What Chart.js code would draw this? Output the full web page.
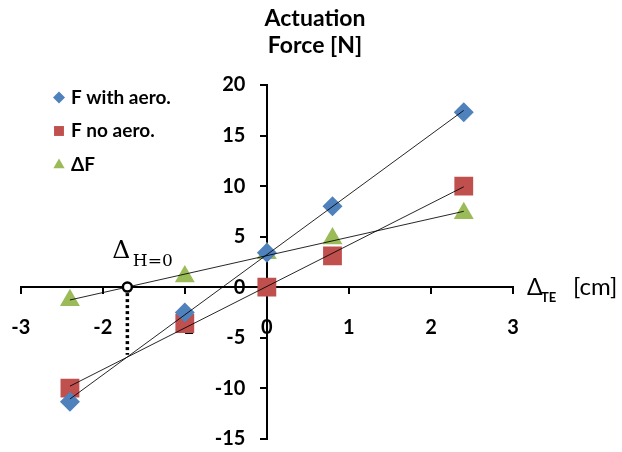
<!DOCTYPE html>
<html>
<head>
<meta charset="utf-8">
<script src="https://cdn.jsdelivr.net/npm/chart.js@4.4.0/dist/chart.umd.min.js"></script>
<style>
  body { margin: 0; background: #fff; }
  #wrap { width: 622px; height: 452px; }
</style>
</head>
<body>
<div id="wrap"><canvas id="chart" width="622" height="452"></canvas></div>
<script>
// measured points
const deltaTE = [-2.4, -1, 0, 0.8, 2.4];
const forceWithAero = [-11.35, -2.5, 3.4, 8.0, 17.3];
const forceNoAero = [-10.0, -3.6, 0, 3.1, 10.0];
const deltaForce = [-1.3, 1.05, 3.35, 4.8, 7.3];

const xTicks = [-3, -2, -1, 0, 1, 2, 3];
const yTicks = [-15, -10, -5, 0, 5, 10, 15, 20];

// where ΔF = 0 and the dotted drop line under it
const zeroPoint = [-1.7, 0];
const dropLineY = [0, -6.7];

const BLUE = '#4F81BD';
const RED = '#C0504D';
const GREEN = '#9BBB59';
const FONT = 'Lato';

const series = [
    { label: 'F with aero.', data: forceWithAero, color: BLUE, style: 'rectRot', radius: 10, legendRadius: 6 },
    { label: 'F no aero.', data: forceNoAero, color: RED, style: 'rect', radius: 13.3, legendRadius: 7 },
    { label: 'ΔF', data: deltaForce, color: GREEN, style: 'triangle', radius: 11.5, legendRadius: 6.5 }
];

// least squares line, like the excel trendline
function linFit(xs, ys) {
    const n = xs.length;
    const mx = xs.reduce((a, b) => a + b, 0) / n;
    const my = ys.reduce((a, b) => a + b, 0) / n;
    let sxy = 0, sxx = 0;
    xs.forEach((x, i) => {
        sxy += (x - mx) * (ys[i] - my);
        sxx += (x - mx) * (x - mx);
    });
    const slope = sxy / sxx;
    return x => my + slope * (x - mx);
}

const xMin = Math.min(...deltaTE);
const xMax = Math.max(...deltaTE);

const datasets = [];
series.forEach(s => {
    datasets.push({
        label: s.label,
        data: deltaTE.map((x, i) => ({ x: x, y: s.data[i] })),
        pointStyle: s.style,
        pointRadius: s.radius,
        pointHoverRadius: s.radius,
        pointBackgroundColor: s.color,
        pointBorderColor: s.color,
        pointBorderWidth: 0,
        showLine: false,
        order: 2
    });
});
series.forEach(s => {
    const f = linFit(deltaTE, s.data);
    datasets.push({
        label: s.label + ' trend',
        data: [{ x: xMin, y: f(xMin) }, { x: xMax, y: f(xMax) }],
        showLine: true,
        borderColor: 'rgba(0,0,0,0.85)',
        borderWidth: 1,
        pointRadius: 0,
        order: 1
    });
});
datasets.push({
    label: 'drop',
    data: dropLineY.map(y => ({ x: zeroPoint[0], y: y })),
    showLine: true,
    borderColor: '#000',
    borderWidth: 3.5,
    borderDash: [3, 3],
    pointRadius: 0,
    order: 3
});
datasets.push({
    label: 'zero',
    data: [{ x: zeroPoint[0], y: zeroPoint[1] }],
    pointStyle: 'circle',
    pointRadius: 4.5,
    pointBorderWidth: 2.5,
    pointBorderColor: '#000',
    pointBackgroundColor: '#fff',
    order: 0
});

const tickFont = { family: FONT, size: 20, weight: 'bold' };

const textPlugin = {
    id: 'texts',
    afterDraw(chart) {
        const ctx = chart.ctx;
        const xs = chart.scales.x;
        const ys = chart.scales.y;
        ctx.save();
        ctx.fillStyle = '#000';

        // title
        ctx.font = 'bold 23px ' + FONT;
        ctx.textAlign = 'center';
        ctx.textBaseline = 'alphabetic';
        ctx.fillText('Actuation', 315, 26);
        ctx.fillText('Force [N]', 315, 53);

        // y tick labels (center axis ignores tick padding, so draw them here)
        const ax = xs.getPixelForValue(0);
        ctx.font = 'bold 20px ' + FONT;
        ctx.textAlign = 'right';
        ctx.textBaseline = 'middle';
        yTicks.forEach(v => {
            ctx.fillText(String(v), ax - 21.5, ys.getPixelForValue(v));
        });

        // x axis title
        const y0 = ys.getPixelForValue(0);
        const xr = xs.right;
        ctx.textAlign = 'left';
        ctx.textBaseline = 'alphabetic';
        ctx.font = '23px ' + FONT;
        ctx.fillText('Δ', xr + 14, y0 + 8);
        ctx.font = 'bold 13px ' + FONT;
        ctx.fillText('TE', xr + 28, y0 + 15);
        ctx.font = '24px ' + FONT;
        ctx.fillText('[cm]', xr + 60, y0 + 8);

        // Δ H=0 label
        const px = xs.getPixelForValue(zeroPoint[0]);
        const py = ys.getPixelForValue(zeroPoint[1]);
        ctx.font = '25px "DejaVu Serif"';
        ctx.fillText('Δ', px - 15, py - 29);
        ctx.font = '17px "DejaVu Serif"';
        ctx.fillText('H=0', px + 5.5, py - 21);

        // legend
        const rowY = [97.5, 131, 165];
        ctx.font = 'bold 19px ' + FONT;
        ctx.textBaseline = 'middle';
        series.forEach((s, i) => {
            ctx.fillStyle = s.color;
            ctx.strokeStyle = s.color;
            Chart.helpers.drawPoint(ctx, { pointStyle: s.style, radius: s.legendRadius, borderWidth: 0, rotation: 0 }, 59, rowY[i]);
            ctx.fillStyle = '#000';
            ctx.fillText(s.label, 71, rowY[i]);
        });
        ctx.restore();
    }
};

// tick padding would otherwise be added to the layout padding
function noPad(scale) {
    scale.paddingLeft = 0;
    scale.paddingRight = 0;
    scale.paddingTop = 0;
    scale.paddingBottom = 0;
}

new Chart(document.getElementById('chart'), {
    type: 'scatter',
    data: { datasets: datasets },
    options: {
        responsive: false,
        animation: false,
        layout: { padding: { left: 20.7, top: 85, right: 109, bottom: 11.3 } },
        plugins: {
            legend: { display: false },
            tooltip: { enabled: false },
            title: { display: false }
        },
        scales: {
            x: {
                type: 'linear',
                min: -3,
                max: 3,
                position: { y: 0 },
                afterBuildTicks: s => { s.ticks = xTicks.map(v => ({ value: v })); },
                afterFit: noPad,
                border: { color: '#000', width: 2 },
                grid: { drawOnChartArea: false, drawTicks: true, tickLength: 6, color: '#000', lineWidth: 2 },
                ticks: { font: tickFont, color: '#000', padding: 22 }
            },
            y: {
                type: 'linear',
                min: -15,
                max: 20,
                position: { x: 0 },
                afterBuildTicks: s => { s.ticks = yTicks.map(v => ({ value: v })); },
                afterFit: noPad,
                border: { color: '#000', width: 2 },
                grid: { drawOnChartArea: false, drawTicks: true, tickLength: 6, color: '#000', lineWidth: 2 },
                ticks: { display: false }
            }
        }
    },
    plugins: [textPlugin]
});
</script>
</body>
</html>
